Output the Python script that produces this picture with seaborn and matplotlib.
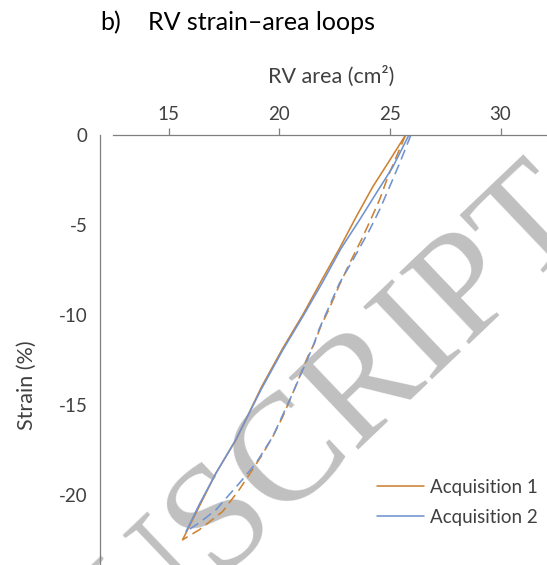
import pandas as pd
import seaborn as sns
import matplotlib.pyplot as plt
from matplotlib.lines import Line2D

# Acquisition 1 (orange): solid = systole, dashed = diastole
acq1_solid_area = [25.71, 25.00, 24.23, 23.48, 22.73, 21.95, 21.06, 20.16, 19.20, 18.05, 17.14, 16.31, 15.63]
acq1_solid_strain = [0.0, -1.39, -2.87, -4.54, -6.29, -8.0, -10.0, -11.85, -14.0, -16.94, -18.79, -20.83, -22.5]
acq1_dash_area = [25.71, 24.91, 24.53, 24.16, 23.71, 23.18, 22.72, 22.27, 21.90, 21.59, 21.29,
                  20.61, 20.16, 19.71, 19.18, 18.20, 17.44, 16.39, 15.63]
acq1_dash_strain = [0.0, -2.32, -3.61, -4.63, -5.83, -7.13, -8.33, -9.63, -10.56, -11.57, -12.32,
                    -14.35, -15.65, -16.76, -17.87, -19.70, -20.93, -21.94, -22.5]

# Acquisition 2 (blue)
acq2_solid_area = [25.86, 25.14, 24.38, 23.63, 22.80, 21.95, 21.06, 20.16, 19.20, 18.05, 17.14, 16.40, 15.79]
acq2_solid_strain = [0.0, -1.76, -3.24, -4.72, -6.29, -8.2, -10.1, -11.95, -14.1, -16.9, -18.8, -20.5, -22.04]
acq2_dash_area = [25.95, 25.44, 24.99, 24.53, 24.08, 23.33, 22.72, 22.19, 21.82, 21.52, 20.61,
                  19.71, 18.95, 18.20, 17.14, 16.47, 15.79]
acq2_dash_strain = [0.0, -1.57, -2.87, -4.17, -5.28, -6.94, -8.24, -9.72, -10.74, -11.76, -14.35,
                    -16.76, -18.24, -19.35, -20.83, -21.48, -22.04]

x_ticks = [15, 20, 25, 30]
y_ticks = [0, -5, -10, -15, -20]
labels = ['Acquisition 1', 'Acquisition 2']

orange = '#CC8233'
blue = '#7092D0'
grey_txt = '#404040'

sns.set_style('white')
plt.rcParams['font.family'] = ['Lato', 'DejaVu Sans']
plt.rcParams['axes.unicode_minus'] = False

fig = plt.figure(figsize=(5.47, 5.65), dpi=100)
ax = fig.add_axes([100 / 547, 0.0, 447 / 547, 430 / 565])
ax.patch.set_alpha(0)

series = [
    (acq1_solid_area, acq1_solid_strain, orange, '-'),
    (acq1_dash_area, acq1_dash_strain, orange, '--'),
    (acq2_solid_area, acq2_solid_strain, blue, '-'),
    (acq2_dash_area, acq2_dash_strain, blue, '--'),
]
for xs, ys, col, ls in series:
    df = pd.DataFrame({'area': xs, 'strain': ys})
    sns.lineplot(data=df, x='area', y='strain', ax=ax, sort=False, estimator=None,
                 color=col, linewidth=1.15, linestyle=ls)
for l in ax.lines:
    if l.get_linestyle() == '--':
        l.set_dashes((6.5, 3.5))

ax.set_xlim(11.9, 32.1)
ax.set_ylim(-23.9, 0)
ax.xaxis.tick_top()
ax.xaxis.set_label_position('top')
ax.set_xticks(x_ticks)
ax.set_yticks(y_ticks)
ax.set_xlabel('')
ax.set_ylabel('')
ax.tick_params(axis='both', direction='out', length=5, width=0.9, color='#7f7f7f',
               labelsize=13.5, labelcolor=grey_txt, pad=4)
for s in ['bottom', 'right']:
    ax.spines[s].set_visible(False)
for s in ['top', 'left']:
    ax.spines[s].set_color('#7f7f7f')
    ax.spines[s].set_linewidth(0.9)
ax.spines['top'].set_bounds(12.5, 32.1)

fig.text(331 / 547, 1 - 76 / 565, 'RV area (cm²)', ha='center', va='center',
         fontsize=15.5, color=grey_txt)
fig.text(27 / 547, 1 - 385 / 565, 'Strain (%)', ha='center', va='center',
         rotation=90, fontsize=15.5, color=grey_txt)
fig.text(100 / 547, 1 - 23 / 565, 'b)', ha='left', va='center', fontsize=18, color='black')
fig.text(148 / 547, 1 - 23 / 565, 'RV strain–area loops', ha='left', va='center',
         fontsize=18, color='black')

handles = [Line2D([], [], color=orange, lw=1.15), Line2D([], [], color=blue, lw=1.15)]
fig.legend(handles, labels, loc='upper left', bbox_to_anchor=(377 / 547, 1 - 479 / 565),
           frameon=False, borderpad=0, borderaxespad=0,
           fontsize=13.5, handlelength=2.5, handletextpad=0.3, labelspacing=0.68,
           labelcolor=grey_txt)

# watermark, partly outside the figure as in the source page
fig.text(-0.2172, -0.5929, 'MANUSCRIPT', ha='left', va='baseline', rotation=43.6,
         rotation_mode='anchor', fontsize=110, family='Liberation Serif', color='#C0C0C0',
         zorder=-1)

fig.savefig('out.png', dpi=100)
